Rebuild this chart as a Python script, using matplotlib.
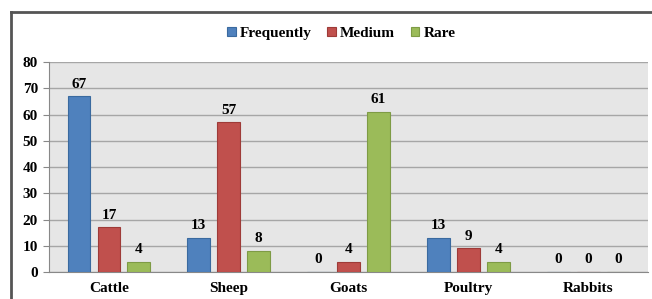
import numpy as np
import matplotlib.pyplot as plt
from matplotlib.lines import Line2D

plt.rcParams["font.family"] = ["Liberation Serif", "DejaVu Serif"]
plt.rcParams["font.weight"] = "bold"

# 数据
categories = ["Cattle", "Sheep", "Goats", "Poultry", "Rabbits"]
series_names = ["Frequently", "Medium", "Rare"]
frequently = [67, 13, 0, 13, 0]
medium = [17, 57, 4, 9, 0]
rare = [4, 8, 61, 4, 0]
colors = ["#4F81BD", "#C0504D", "#9BBB59"]
edges = ["#3A6A9F", "#9E3B38", "#7E9B45"]

fig = plt.figure(figsize=(6.52, 2.99), dpi=100)
ax = fig.add_axes([0.0752, 0.0903, 0.9187, 0.7023])
ax.set_facecolor("#E6E6E6")

x = np.arange(len(categories))
offsets = [-0.25, 0, 0.25]
for vals, name, c, ec, off in zip([frequently, medium, rare], series_names, colors, edges, offsets):
    bars = ax.bar(x + off, vals, width=0.19, color=c, edgecolor=ec, linewidth=0.8,
                  label=name, zorder=3)
    for b, v in zip(bars, vals):
        ax.annotate(str(v), (b.get_x() + b.get_width() / 2, v), xytext=(0, 4),
                    textcoords="offset points", ha="center", va="bottom",
                    fontsize=11, fontweight="bold", zorder=4)

ax.set_xlim(-0.5, 4.5)
ax.set_ylim(0, 80)
ax.set_yticks(range(0, 81, 10))
ax.set_xticks(x)
ax.set_xticklabels(categories)
ax.grid(axis="y", color="#A6A6A6", linewidth=1.0, zorder=0)
ax.tick_params(axis="y", length=4, color="#888888", labelsize=11, pad=4)
ax.tick_params(axis="x", length=0, labelsize=11, pad=7)
for s in ["top", "right"]:
    ax.spines[s].set_visible(False)
ax.spines["left"].set_color("#888888")
ax.spines["bottom"].set_color("#888888")

leg = ax.legend(loc="center", bbox_to_anchor=(0.488, 1.138), ncol=3, frameon=False,
                fontsize=11, handlelength=0.55, handleheight=0.55, handletextpad=0.3,
                columnspacing=1.0)

# 外框
fig.add_artist(Line2D([0.0169, 0.0169], [-0.05, 0.96], transform=fig.transFigure,
                      color="#555555", linewidth=2))
fig.add_artist(Line2D([0.0169, 1.05], [0.96, 0.96], transform=fig.transFigure,
                      color="#555555", linewidth=2))

fig.savefig("out.png", dpi=100)
